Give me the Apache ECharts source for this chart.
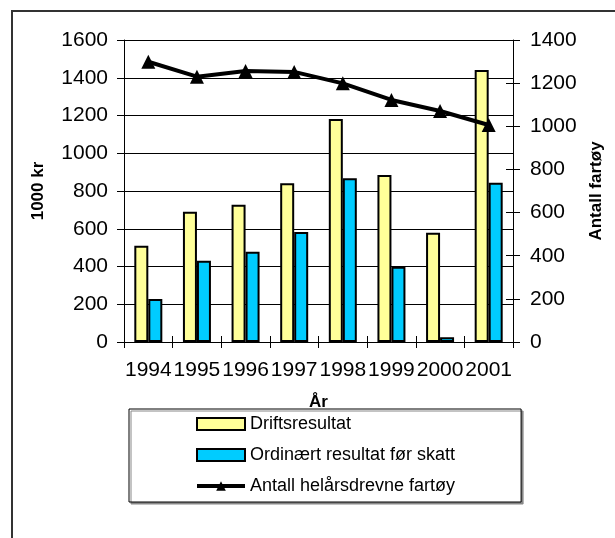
<!DOCTYPE html>
<html>
<head>
<meta charset="utf-8">
<script src="https://cdn.jsdelivr.net/npm/echarts@6/dist/echarts.min.js"></script>
<style>
  html, body { margin: 0; padding: 0; background: #fff; }
  #chart { width: 615px; height: 538px; }
</style>
</head>
<body>
<div id="chart"></div>
<script>
const years = ['1994', '1995', '1996', '1997', '1998', '1999', '2000', '2001'];
const driftsresultat = [510, 690, 727, 841, 1181, 885, 579, 1441];
const ordinaertResultat = [228, 431, 478, 583, 867, 399, 25, 844];
const antallFartoy = [1299, 1230, 1256, 1252, 1199, 1122, 1071, 1006];

const font = 'Liberation Sans, Arial, sans-serif';
const plain = v => String(v);

const chart = echarts.init(document.getElementById('chart'));
chart.setOption({
  animation: false,
  textStyle: { fontFamily: font, color: '#000' },
  graphic: [
    {
      type: 'rect',
      shape: { x: 12, y: 11, width: 700, height: 700 },
      style: { fill: 'none', stroke: '#333', lineWidth: 2 },
      silent: true
    }
  ],
  legend: {
    left: 129,
    top: 409,
    orient: 'vertical',
    padding: [6, 66, 7, 66],
    itemGap: 13,
    itemWidth: 48,
    itemHeight: 12,
    backgroundColor: '#fff',
    borderColor: '#000',
    borderWidth: 1,
    shadowColor: '#888',
    shadowOffsetX: 2,
    shadowOffsetY: 2,
    shadowBlur: 0,
    textStyle: { fontSize: 18, color: '#000', fontFamily: font },
    data: [
      { name: 'Driftsresultat', icon: 'rect' },
      { name: 'Ordinært resultat før skatt', icon: 'rect' },
      { name: 'Antall helårsdrevne fartøy', lineStyle: { width: 4, color: '#000' } }
    ]
  },
  grid: {
    left: 124,
    right: 102,
    top: 40,
    bottom: 196
  },
  xAxis: [
    {
      type: 'category',
      data: years,
      name: 'År',
      nameLocation: 'middle',
      nameGap: 52,
      nameTextStyle: { fontSize: 17, fontWeight: 'bold', color: '#000' },
      axisLine: { lineStyle: { color: '#000', width: 1 } },
      axisTick: { show: true, length: 6, lineStyle: { color: '#000' } },
      axisLabel: { fontSize: 21, color: '#000', margin: 18, interval: 0 }
    },
    {
      type: 'category',
      data: years,
      position: 'bottom',
      axisLine: { show: false },
      axisTick: { show: true, inside: true, length: 6, lineStyle: { color: '#000' } },
      axisLabel: { show: false }
    }
  ],
  yAxis: [
    {
      type: 'value',
      min: 0,
      max: 1600,
      interval: 200,
      name: '1000 kr',
      nameLocation: 'middle',
      nameGap: 77,
      nameTextStyle: { fontSize: 17, fontWeight: 'bold', color: '#000' },
      axisLine: { show: true, lineStyle: { color: '#000', width: 1 } },
      axisTick: { show: true, length: 7, lineStyle: { color: '#000' } },
      axisLabel: { fontSize: 21, color: '#000', margin: 16, formatter: plain },
      splitLine: { show: true, lineStyle: { color: '#000', width: 1 } }
    },
    {
      type: 'value',
      min: 0,
      max: 1400,
      interval: 200,
      position: 'right',
      name: 'Antall fartøy',
      nameLocation: 'middle',
      nameGap: 75,
      nameTextStyle: { fontSize: 17, fontWeight: 'bold', color: '#000' },
      axisLine: { show: true, lineStyle: { color: '#000', width: 1 } },
      axisTick: { show: true, length: 7, lineStyle: { color: '#000' } },
      axisLabel: { fontSize: 21, color: '#000', margin: 17, formatter: plain },
      splitLine: { show: false }
    },
    {
      type: 'value',
      min: 0,
      max: 1400,
      interval: 200,
      position: 'right',
      axisLine: { show: false },
      axisTick: { show: true, inside: true, length: 7, lineStyle: { color: '#000' } },
      axisLabel: { show: false },
      splitLine: { show: false }
    }
  ],
  series: [
    {
      name: 'Driftsresultat',
      type: 'bar',
      data: driftsresultat,
      barWidth: 14,
      barGap: '0%',
      itemStyle: { color: '#FFFF99', borderColor: '#000', borderWidth: 2 }
    },
    {
      name: 'Ordinært resultat før skatt',
      type: 'bar',
      data: ordinaertResultat,
      barWidth: 14,
      barGap: '0%',
      itemStyle: { color: '#00CCFF', borderColor: '#000', borderWidth: 2 }
    },
    {
      name: 'Antall helårsdrevne fartøy',
      type: 'line',
      yAxisIndex: 1,
      data: antallFartoy,
      symbol: 'triangle',
      symbolSize: 14,
      lineStyle: { color: '#000', width: 4 },
      itemStyle: { color: '#000' }
    }
  ]
});
</script>
</body>
</html>
